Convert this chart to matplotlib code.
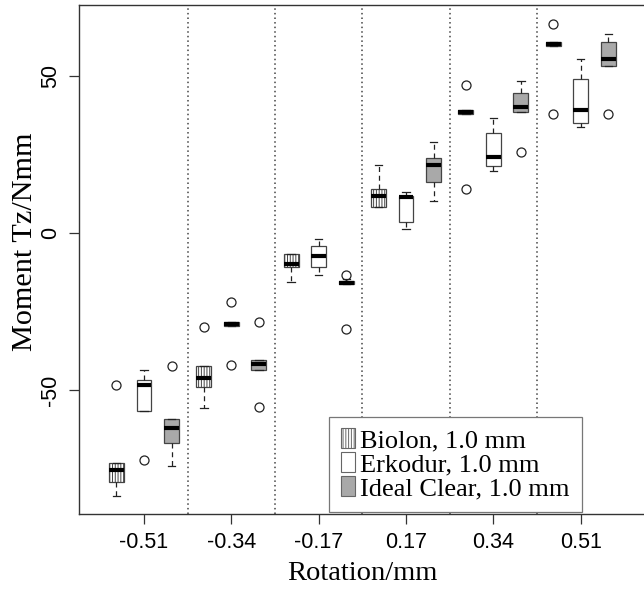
import matplotlib
matplotlib.use("Agg")
import matplotlib.pyplot as plt
from matplotlib.patches import Patch

# rotation steps (x tick labels)
rotations = ["-0.51", "-0.34", "-0.17", "0.17", "0.34", "0.51"]
materials = ["Biolon, 1.0 mm", "Erkodur, 1.0 mm", "Ideal Clear, 1.0 mm"]

# box statistics, one value per rotation step
biolon_med = [-75.6, -46.3, -9.8, 11.9, 38.6, 60.1]
biolon_q1 = [-79.4, -48.9, -10.9, 8.2, 38.0, 59.5]
biolon_q3 = [-73.3, -42.4, -6.7, 13.9, 39.2, 60.7]
biolon_lo = [-83.8, -55.6, -15.5, 8.2, 38.0, 59.5]
biolon_hi = [-73.3, -42.4, -6.7, 21.7, 39.2, 60.7]
biolon_out = [[-48.4], [-30.0], [], [], [47.0, 14.0], [66.5, 37.8]]

erkodur_med = [-48.3, -29.0, -7.2, 11.6, 24.1, 39.2]
erkodur_q1 = [-56.6, -29.5, -10.7, 3.6, 21.3, 34.9]
erkodur_q3 = [-46.8, -28.5, -4.0, 11.8, 31.9, 49.1]
erkodur_lo = [-56.6, -29.5, -13.4, 1.2, 19.8, 33.7]
erkodur_hi = [-43.6, -28.5, -2.0, 13.1, 36.5, 55.3]
erkodur_out = [[-72.3], [-21.9, -42.0], [], [], [], []]

ideal_med = [-62.0, -41.8, -15.9, 21.8, 40.1, 55.4]
ideal_q1 = [-67.0, -43.6, -16.3, 16.3, 38.4, 53.2]
ideal_q3 = [-59.1, -40.4, -15.2, 23.8, 44.7, 60.7]
ideal_lo = [-74.2, -43.6, -16.3, 10.2, 38.4, 53.2]
ideal_hi = [-59.1, -40.4, -14.5, 28.9, 48.5, 63.5]
ideal_out = [[-42.3], [-28.2, -55.3], [-13.4, -30.6], [], [25.9], [37.9]]

series = [
    (biolon_med, biolon_q1, biolon_q3, biolon_lo, biolon_hi, biolon_out),
    (erkodur_med, erkodur_q1, erkodur_q3, erkodur_lo, erkodur_hi, erkodur_out),
    (ideal_med, ideal_q1, ideal_q3, ideal_lo, ideal_hi, ideal_out),
]
fills = ["white", "white", "#a9a9a9"]
hatches = ["||||||", None, None]
offsets = [-0.315, 0.0, 0.315]

plt.rcParams["hatch.linewidth"] = 0.7
plt.rcParams["hatch.color"] = "#555555"

fig = plt.figure(figsize=(6.44, 5.90), dpi=100)
ax = fig.add_axes([0.1227, 0.1288, 0.880, 0.8627])

# dotted separators between rotation groups
for i in range(len(rotations) - 1):
    ax.axvline(i + 1.5, color="#444444", linestyle=(0, (1, 2)), linewidth=1.1, zorder=0)

for k, (med, q1, q3, lo, hi, out) in enumerate(series):
    stats = []
    for i in range(len(rotations)):
        stats.append(dict(med=med[i], q1=q1[i], q3=q3[i],
                          whislo=lo[i], whishi=hi[i], fliers=out[i]))
    pos = [i + 1 + offsets[k] for i in range(len(rotations))]
    bp = ax.bxp(stats, positions=pos, widths=0.17, patch_artist=True,
                manage_ticks=False,
                boxprops=dict(facecolor=fills[k], edgecolor="#444444", linewidth=0.9),
                medianprops=dict(color="black", linewidth=3.0, solid_capstyle="butt"),
                whiskerprops=dict(color="#222222", linewidth=0.9, linestyle=(0, (4, 3))),
                capprops=dict(color="#222222", linewidth=0.9),
                flierprops=dict(marker="o", markersize=6.5, markerfacecolor="none",
                                markeredgecolor="#222222", markeredgewidth=0.9))
    if hatches[k]:
        for b in bp["boxes"]:
            b.set_hatch(hatches[k])

ax.set_xlim(0.256, 6.744)
ax.set_ylim(-89.5, 72.6)
ax.set_xticks(range(1, len(rotations) + 1))
ax.set_xticklabels(rotations)
ax.set_yticks([-50, 0, 50])
ax.set_yticklabels(["-50", "0", "50"], rotation=90, va="center")
ax.tick_params(direction="out", length=7, width=0.9, color="#333333", pad=6)
for lab in ax.get_xticklabels() + ax.get_yticklabels():
    lab.set_fontfamily("Liberation Sans")
    lab.set_fontsize(15.5)
for side in ["left", "bottom", "top", "right"]:
    ax.spines[side].set_color("#333333")
    ax.spines[side].set_linewidth(1.0)

ax.set_xlabel("Rotation/mm", fontfamily="Liberation Serif", fontsize=20.5, labelpad=6)
ax.set_ylabel("Moment Tz/Nmm", fontfamily="Liberation Serif", fontsize=21.8)
ax.yaxis.set_label_coords(-0.072, 0.535)

handles = [Patch(facecolor=fills[k], edgecolor="#666666", linewidth=0.8, hatch=hatches[k])
           for k in range(3)]
leg = ax.legend(handles, materials, loc="lower right", bbox_to_anchor=(0.887, 0.004),
                borderaxespad=0, fancybox=False, framealpha=1, edgecolor="#777777",
                prop=dict(family="Liberation Serif", size=19),
                handlelength=0.55, handleheight=0.75, handletextpad=0.2,
                labelspacing=0.0, borderpad=0.45)
leg.get_frame().set_linewidth(0.9)

fig.savefig("out.png", dpi=100)
